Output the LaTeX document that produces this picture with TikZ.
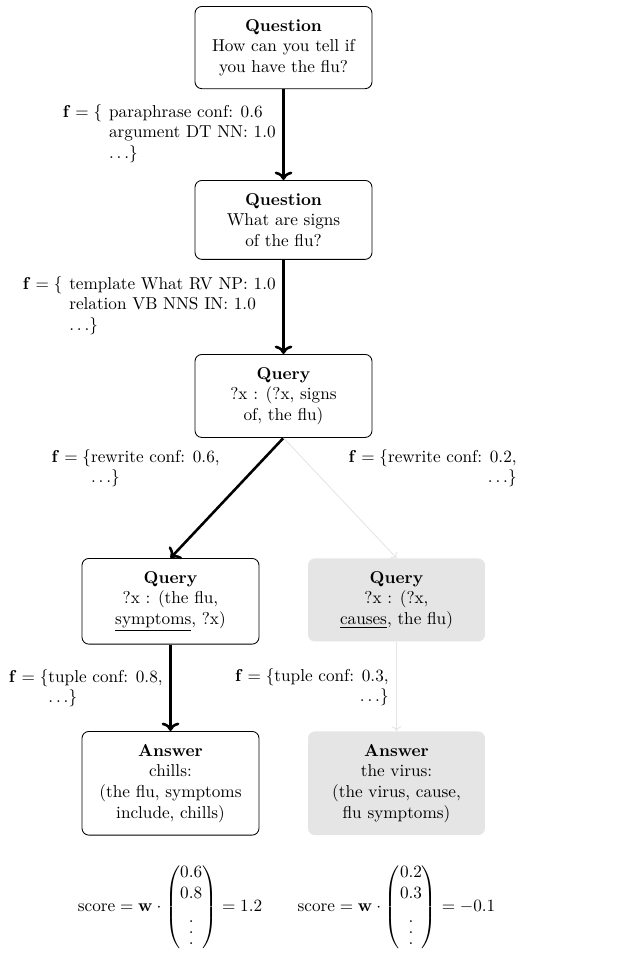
\documentclass[tikz,border=0pt]{standalone}
\usepackage{amsmath}
\usetikzlibrary{arrows.meta}
\newcommand{\bigvdots}{\vbox{\baselineskip6.4pt\lineskiplimit0pt\kern9.6pt\hbox{.}\hbox{.}\hbox{.}}}
\begin{document}
\begin{tikzpicture}[x=0.5814pt,y=-0.5814pt,
  box/.style={draw, line width=0.5pt, rounded corners=4pt, align=center, minimum width=102.9pt, inner ysep=7.4pt, anchor=north},
  gbox/.style={box, draw=none, fill=gray!20},
  strong/.style={->, line width=1.5pt},
  weak/.style={->, line width=0.5pt, draw=gray!20},
  lab/.style={inner sep=0pt}]
\useasboundingbox (0,0) rectangle (635,954);

\node[box] (q1) at (283.5,6) {\textbf{Question}\\How can you tell if\\you have the flu?};
\node[box] (q2) at (283.5,180) {\textbf{Question}\\What are signs\\of the flu?};
\node[box] (qr) at (283.5,354) {\textbf{Query}\\?x : (?x, signs\\of, the flu)};
\node[box] (ql) at (170.5,558) {\textbf{Query}\\?x : (the flu,\\\underline{symptoms}, ?x)};
\node[gbox] (qg) at (396.5,558) {\textbf{Query}\\?x : (?x,\\\underline{causes}, the flu)};
\node[box] (al) at (170.5,731) {\textbf{Answer}\\chills:\\(the flu, symptoms\\include, chills)};
\node[gbox] (ag) at (396.5,731) {\textbf{Answer}\\the virus:\\(the virus, cause,\\flu symptoms)};

\draw[strong] (q1.south) -- (q2.north);
\draw[strong] (q2.south) -- (qr.north);
\draw[strong] (qr.south) -- (ql.north);
\draw[weak] (qr.south) -- (qg.north);
\draw[strong] (ql.south) -- (al.north);
\draw[weak] (qg.south) -- (ag.north);

\node[lab, anchor=base east] (f1) at (276,117) {$\mathbf{f}=\{$\hspace{4pt}\begin{tabular}[t]{@{}l@{}}paraphrase conf: 0.6\\argument DT NN: 1.0\\$\ldots\}$\end{tabular}};
\node[lab, anchor=base east] (f2) at (276,289) {$\mathbf{f}=\{$\hspace{4pt}\begin{tabular}[t]{@{}l@{}}template What RV NP: 1.0\\relation VB NNS IN: 1.0\\$\ldots\}$\end{tabular}};
\node[lab, anchor=base east] (f3) at (220,462) {$\mathbf{f}=\{$\begin{tabular}[t]{@{}l@{}}rewrite conf: 0.6,\\$\ldots\}$\end{tabular}};
\node[lab, anchor=base east] (f4) at (517,462) {\begin{tabular}[t]{@{}r@{}}$\mathbf{f}=\{$rewrite conf: 0.2,\\$\ldots\}$\end{tabular}};
\node[lab, anchor=base east] (f5) at (163,682) {$\mathbf{f}=\{$\begin{tabular}[t]{@{}l@{}}tuple conf: 0.8,\\$\ldots\}$\end{tabular}};
\node[lab, anchor=base east] (f6) at (389,681) {\begin{tabular}[t]{@{}r@{}}$\mathbf{f}=\{$tuple conf: 0.3,\\$\ldots\}$\end{tabular}};

\node[lab] (s1) at (170,907) {$\text{score}=\mathbf{w}\cdot\begin{pmatrix}0.6\\0.8\\\bigvdots\end{pmatrix}=1.2$};
\node[lab] (s2) at (396.5,907) {$\text{score}=\mathbf{w}\cdot\begin{pmatrix}0.2\\0.3\\\bigvdots\end{pmatrix}=-0.1$};
\end{tikzpicture}
\end{document}
